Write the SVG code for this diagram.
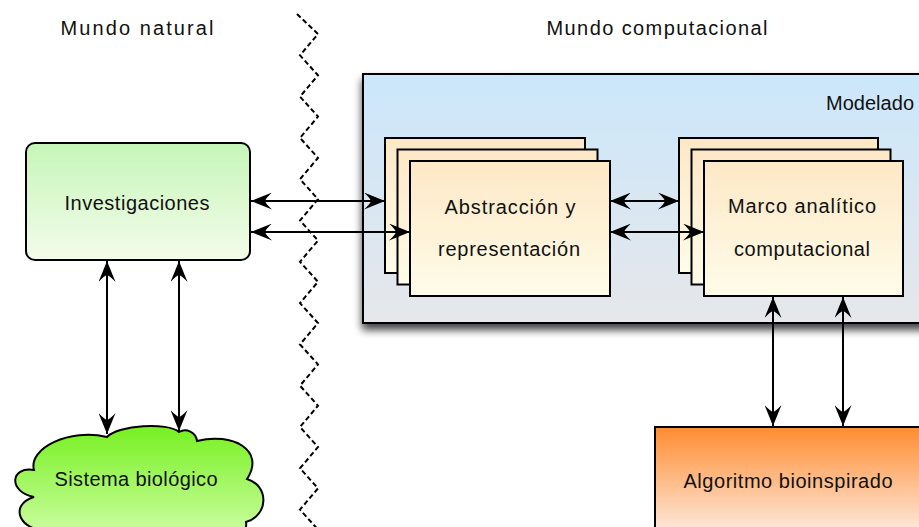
<svg xmlns="http://www.w3.org/2000/svg" width="919" height="527" viewBox="0 0 919 527">
  <defs>
    <style>
      text { font-family: "Liberation Sans", "DejaVu Sans", sans-serif; font-size: 20px; fill: #111; text-anchor: middle; }
      .box { stroke: #000; stroke-width: 2; }
      .sheet { fill: url(#gSheet); stroke: #000; stroke-width: 2; }
      .link { fill: none; stroke: #000; stroke-width: 2; marker-start: url(#arrow); marker-end: url(#arrow); }
      .divider { fill: none; stroke: #000; stroke-width: 2; stroke-dasharray: 5 3; }
    </style>
    <linearGradient id="gModel" x1="0" y1="0" x2="0" y2="1">
      <stop offset="0" stop-color="#cbe7fb"/>
      <stop offset="1" stop-color="#e6e7ea"/>
    </linearGradient>
    <linearGradient id="gSheet" x1="0" y1="0" x2="0" y2="1">
      <stop offset="0" stop-color="#fde8c6"/>
      <stop offset="1" stop-color="#fffce9"/>
    </linearGradient>
    <linearGradient id="gInv" x1="0" y1="0" x2="0" y2="1">
      <stop offset="0" stop-color="#c6f6b8"/>
      <stop offset="1" stop-color="#f4fcea"/>
    </linearGradient>
    <linearGradient id="gCloud" x1="0" y1="0" x2="0" y2="1">
      <stop offset="0" stop-color="#76f020"/>
      <stop offset="1" stop-color="#d6ffb0"/>
    </linearGradient>
    <linearGradient id="gAlgo" x1="0" y1="0" x2="0" y2="1">
      <stop offset="0" stop-color="#ff8c30"/>
      <stop offset="0.85" stop-color="#fdeee6"/>
      <stop offset="1" stop-color="#ffffff"/>
    </linearGradient>
    <filter id="shadow" x="-10%" y="-10%" width="130%" height="140%">
      <feGaussianBlur in="SourceAlpha" stdDeviation="4"/>
      <feOffset dx="0" dy="6"/>
      <feComponentTransfer><feFuncA type="linear" slope="0.75"/></feComponentTransfer>
      <feMerge><feMergeNode/><feMergeNode in="SourceGraphic"/></feMerge>
    </filter>
    <!-- barbed arrowhead, used at both ends of every link -->
    <marker id="arrow" viewBox="0 0 21 17" markerWidth="21" markerHeight="17" refX="21" refY="8.5" markerUnits="userSpaceOnUse" orient="auto-start-reverse">
      <path d="M21,8.5 L0,0 Q6,5.5 7,8.5 Q6,11.5 0,17 Z" fill="#000"/>
    </marker>
  </defs>

  <!-- world headings -->
  <text x="137" y="35" textLength="153">Mundo natural</text>
  <text x="657" y="35" textLength="221">Mundo computacional</text>

  <!-- dashed zigzag border between the two worlds -->
  <polyline id="divider" class="divider" points="297,14 318,34 300,55.3 318,75.3 300,96.6 318,116.6 300,137.9 318,157.9 300,179.2 318,199.2 300,220.5 318,240.5 300,261.8 318,281.8 300,303.1 318,323.1 300,344.4 318,364.4 300,385.7 318,405.7 300,427 318,447 300,468.3 318,488.3 300,509.6 318,529.6"/>

  <!-- modelling container -->
  <g id="modelado">
    <rect class="box" x="363" y="74" width="590" height="249" fill="url(#gModel)" filter="url(#shadow)"/>
    <text x="870" y="110" textLength="88">Modelado</text>
  </g>

  <g id="investigaciones">
    <rect class="box" x="26" y="143" width="224" height="117" rx="9" fill="url(#gInv)"/>
    <text x="137" y="210" textLength="145">Investigaciones</text>
  </g>

  <g id="sistema-biologico">
    <path class="box" fill="url(#gCloud)" d="M107,437 C118,425 168,422 179,432 C186,428 196,432 197,441 C232,432 266,450 247,479 C270,486 268,516 246,522 C250,545 195,548 180,536 C150,550 70,550 48,530 C20,532 8,505 34,497 C8,492 10,466 34,470 C28,448 70,428 107,437 Z"/>
    <text x="136" y="486" textLength="163">Sistema biológico</text>
  </g>

  <g id="abstraccion">
    <rect class="sheet" x="385" y="138" width="200" height="135"/>
    <rect class="sheet" x="397.5" y="149.5" width="200" height="135"/>
    <rect class="sheet" x="410" y="161" width="200" height="135"/>
    <text x="510" y="214" textLength="131">Abstracción y</text>
    <text x="509" y="256" textLength="142">representación</text>
  </g>

  <g id="marco">
    <rect class="sheet" x="679" y="138" width="199" height="135"/>
    <rect class="sheet" x="691.5" y="149.5" width="199" height="135"/>
    <rect class="sheet" x="704" y="161" width="199" height="135"/>
    <text x="802" y="213" textLength="148">Marco analítico</text>
    <text x="802" y="256" textLength="136">computacional</text>
  </g>

  <g id="algoritmo">
    <rect class="box" x="655" y="427" width="300" height="130" fill="url(#gAlgo)"/>
    <text x="788" y="488" textLength="209">Algoritmo bioinspirado</text>
  </g>

  <!-- connectors -->
  <g id="connectors">
    <line class="link" x1="251" y1="201" x2="385" y2="201"/>
    <line class="link" x1="251" y1="232" x2="410" y2="232"/>
    <line class="link" x1="610" y1="201" x2="679" y2="201"/>
    <line class="link" x1="610" y1="232" x2="704" y2="232"/>
    <line class="link" x1="107" y1="261" x2="107" y2="434"/>
    <line class="link" x1="179" y1="261" x2="179" y2="431"/>
    <line class="link" x1="773" y1="297" x2="773" y2="426"/>
    <line class="link" x1="843" y1="297" x2="843" y2="426"/>
  </g>
</svg>
